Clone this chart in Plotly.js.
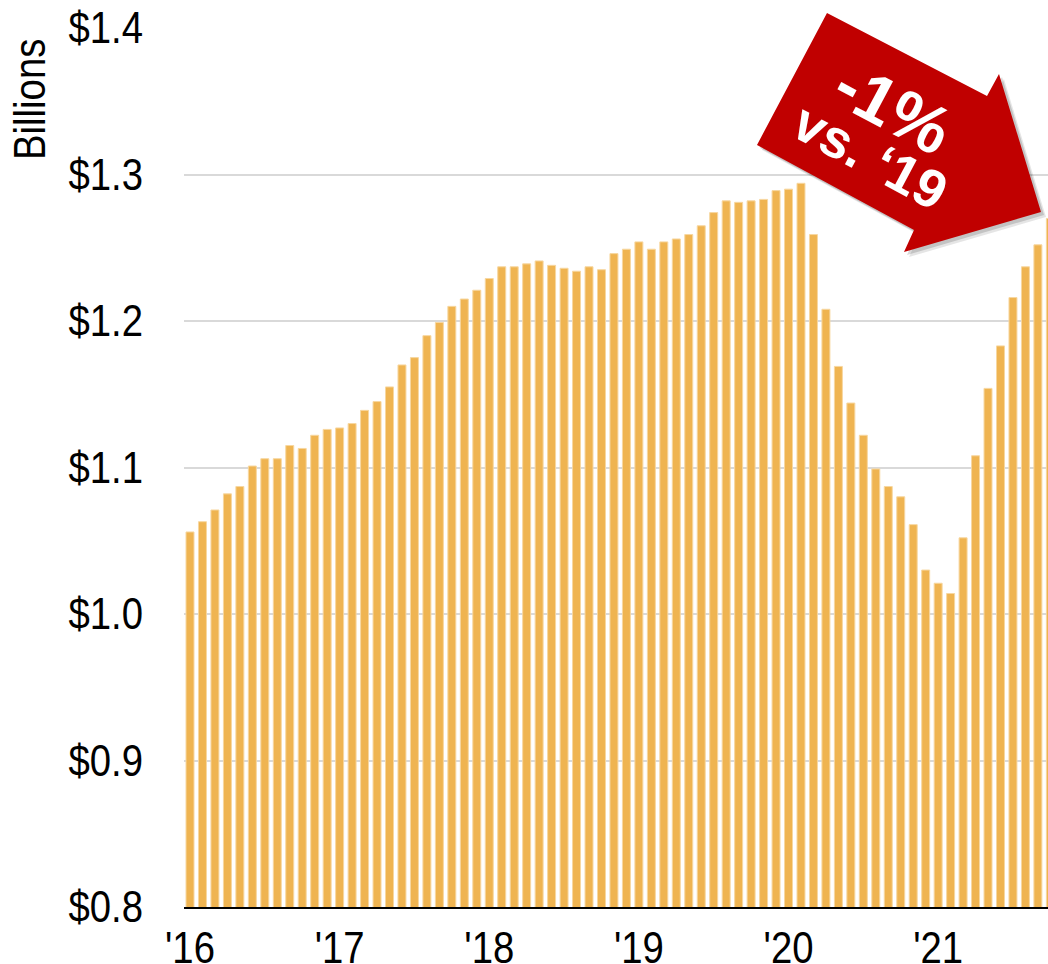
<!DOCTYPE html>
<html><head><meta charset="utf-8">
<script src="https://cdn.plot.ly/plotly-3.0.1.min.js"></script>
<style>html,body{margin:0;padding:0;background:#fff}#chart{width:1048px;height:964px}</style>
</head><body><div id="chart"></div>
<script>
// ---- data ----
const years = ['2016', '2017', '2018', '2019', '2020', '2021'];
const monthNums = ['01','02','03','04','05','06','07','08','09','10','11','12'];
// monthly values, $ billions, Jan 2016 .. Oct 2021
const values = [
  1.056, 1.063, 1.071, 1.082, 1.087, 1.101, 1.106, 1.106, 1.115, 1.113, 1.122, 1.126,
  1.127, 1.130, 1.139, 1.145, 1.155, 1.170, 1.175, 1.190, 1.199, 1.210, 1.215, 1.221,
  1.229, 1.237, 1.237, 1.239, 1.241, 1.238, 1.236, 1.234, 1.237, 1.235, 1.246, 1.249,
  1.254, 1.249, 1.254, 1.256, 1.259, 1.265, 1.274, 1.282, 1.281, 1.282, 1.283, 1.289,
  1.290, 1.294, 1.259, 1.208, 1.169, 1.144, 1.122, 1.099, 1.087, 1.080, 1.061, 1.030,
  1.021, 1.014, 1.052, 1.108, 1.154, 1.183, 1.216, 1.237, 1.252, 1.270
];
const tickCats = ['2016-01', '2017-01', '2018-01', '2019-01', '2020-01', '2021-01'];
const tickLabels = ["'16", "'17", "'18", "'19", "'20", "'21"];
const yTickVals = [0.8, 0.9, 1.0, 1.1, 1.2, 1.3, 1.4];
const yTickLabels = ['$0.8', '$0.9', '$1.0', '$1.1', '$1.2', '$1.3', '$1.4'];
const yAxisLabel = 'Billions';
const calloutMain = '-1%';
const calloutSub = 'vs. \u201819';

// categories
const months = [];
years.forEach(y => monthNums.forEach(m => { if (months.length < values.length) months.push(y + '-' + m); }));

// ---- geometry helpers (pixel -> paper) ----
const W = 1048, H = 964;
const M = {l: 184, r: 0, t: 28, b: 57};
const PW = W - M.l - M.r, PH = H - M.t - M.b;
const px = x => (x - M.l) / PW;
const py = y => (H - M.b - y) / PH;

const arrowPts = [[827,13],[987,96],[999,74],[1041,212],[904,252],[914,230],[757,145]];
function pathFrom(pts, dx, dy) {
  return pts.map((p, i) => (i ? 'L' : 'M') + px(p[0] + dx).toFixed(5) + ',' + py(p[1] + dy).toFixed(5)).join(' ') + ' Z';
}

const narrow = '"Liberation Sans Narrow", "Arial Narrow", "Liberation Sans", Arial, sans-serif';
const bold = '"Liberation Sans", Arial, sans-serif';

const trace = {
  type: 'bar',
  x: months,
  y: values,
  marker: {color: '#EFB451', line: {color: '#F7D7A0', width: 1}},
  hoverinfo: 'x+y'
};

const layout = {
  width: W, height: H,
  margin: {l: M.l, r: M.r, t: M.t, b: M.b, pad: 0},
  paper_bgcolor: '#ffffff',
  plot_bgcolor: '#ffffff',
  showlegend: false,
  bargap: 0.36,
  xaxis: {
    type: 'category',
    range: [-0.481, 68.81],
    tickmode: 'array',
    tickvals: tickCats,
    ticktext: tickLabels,
    tickfont: {family: narrow, size: 44, color: '#000'},
    ticks: '',
    ticklabelstandoff: 1,
    showgrid: false,
    showline: true,
    linecolor: '#000',
    linewidth: 2,
    zeroline: false,
    fixedrange: true
  },
  yaxis: {
    range: [0.8, 1.4],
    tickmode: 'array',
    tickvals: yTickVals,
    ticktext: yTickLabels,
    tickfont: {family: narrow, size: 44, color: '#000'},
    ticks: '',
    ticklabelstandoff: 40,
    showgrid: true,
    gridcolor: '#d9d9d9',
    gridwidth: 2,
    showline: false,
    zeroline: false,
    fixedrange: true
  },
  shapes: [
    {type: 'path', xref: 'paper', yref: 'paper', layer: 'above', path: pathFrom(arrowPts, 5, 5), fillcolor: 'rgba(0,0,0,0.10)', line: {width: 0}},
    {type: 'path', xref: 'paper', yref: 'paper', layer: 'above', path: pathFrom(arrowPts, 3, 3), fillcolor: 'rgba(0,0,0,0.15)', line: {width: 0}},
    {type: 'path', xref: 'paper', yref: 'paper', layer: 'above', path: pathFrom(arrowPts, 0, 0), fillcolor: '#C00000', line: {width: 0}}
  ],
  annotations: [
    {xref: 'paper', yref: 'paper', x: px(29), y: py(100), text: yAxisLabel, showarrow: false, textangle: -90,
     font: {family: narrow, size: 44, color: '#000'}, xanchor: 'center', yanchor: 'middle'},
    {xref: 'paper', yref: 'paper', x: px(893), y: py(107), text: '<b>' + calloutMain + '</b>', showarrow: false, textangle: 28,
     font: {family: bold, size: 68, color: '#fff'}, xanchor: 'center', yanchor: 'middle'},
    {xref: 'paper', yref: 'paper', x: px(870), y: py(156), text: '<b>' + calloutSub + '</b>', showarrow: false, textangle: 28,
     font: {family: bold, size: 54, color: '#fff'}, xanchor: 'center', yanchor: 'middle'}
  ]
};

// condense text horizontally (reference uses a narrow face that is not installed)
function condense(el, k) {
  const ax = parseFloat(el.getAttribute('x') || '0');
  const t = el.getAttribute('transform') || '';
  el.setAttribute('transform', t + ' translate(' + ax + ',0) scale(' + k + ',1) translate(' + (-ax) + ',0)');
}

Plotly.newPlot('chart', [trace], layout, {displayModeBar: false, staticPlot: true}).then(gd => {
  gd.querySelectorAll('.xtick text, .ytick text').forEach(el => condense(el, 0.87));
  const ann = gd.querySelectorAll('.annotation-text');
  if (ann.length) condense(ann[0], 0.87);
});
</script>
</body></html>
